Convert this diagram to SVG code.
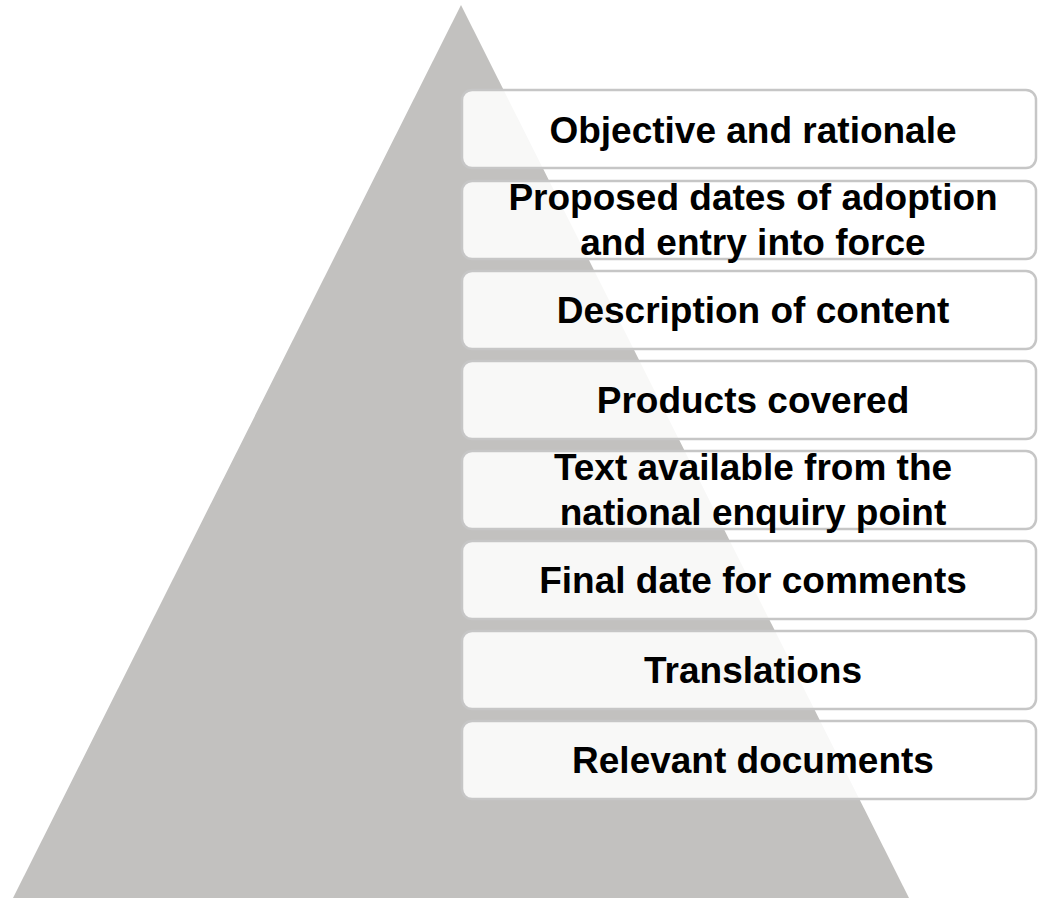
<svg xmlns="http://www.w3.org/2000/svg" width="1038" height="901" viewBox="0 0 1038 901">
<style>
.box{fill:#ffffff;fill-opacity:0.88;stroke:#c6c6c6;stroke-width:2.5}
.t{font-family:"Liberation Sans",Arial,sans-serif;font-weight:bold;font-size:37px;fill:#000;text-anchor:middle}
</style>
<rect width="1038" height="901" fill="#ffffff"/>
<g id="pyramid">
<polygon points="461,5 909,898 13,898" fill="#c2c1bf"/>
</g>
<g id="connectors"></g>
<g id="n1"><rect class="box" x="462" y="90" width="574" height="78" rx="10"/><text class="t" x="753" y="143">Objective and rationale</text></g>
<g id="n2"><rect class="box" x="462" y="181" width="574" height="78" rx="10"/><text class="t" x="753" y="210">Proposed dates of adoption</text><text class="t" x="753" y="255">and entry into force</text></g>
<g id="n3"><rect class="box" x="462" y="271" width="574" height="78" rx="10"/><text class="t" x="753" y="323">Description of content</text></g>
<g id="n4"><rect class="box" x="462" y="361" width="574" height="78" rx="10"/><text class="t" x="753" y="413">Products covered</text></g>
<g id="n5"><rect class="box" x="462" y="451" width="574" height="78" rx="10"/><text class="t" x="753" y="480">Text available from the</text><text class="t" x="753" y="525">national enquiry point</text></g>
<g id="n6"><rect class="box" x="462" y="541" width="574" height="78" rx="10"/><text class="t" x="753" y="593">Final date for comments</text></g>
<g id="n7"><rect class="box" x="462" y="631" width="574" height="78" rx="10"/><text class="t" x="753" y="683">Translations</text></g>
<g id="n8"><rect class="box" x="462" y="721" width="574" height="78" rx="10"/><text class="t" x="753" y="773">Relevant documents</text></g>
</svg>
